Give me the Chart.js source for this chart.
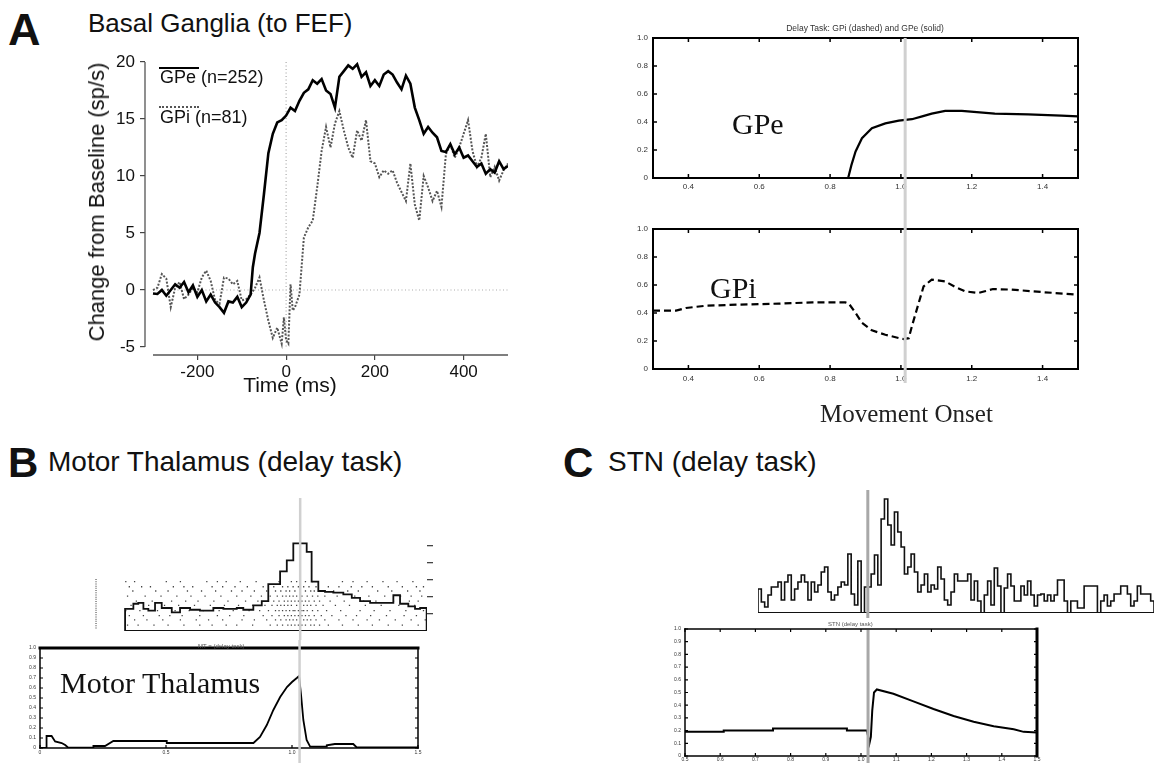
<!DOCTYPE html>
<html><head><meta charset="utf-8">
<script src="https://cdn.jsdelivr.net/npm/chart.js@4.4.1/dist/chart.umd.min.js"></script>
<style>
body{margin:0;background:#fff;}
#wrap{position:relative;width:1154px;height:763px;overflow:hidden;background:#fff;font-family:"Liberation Sans",Arial,sans-serif;color:#111;}
canvas{position:absolute;}
.t{position:absolute;white-space:nowrap;line-height:1;}
.serif{font-family:"Liberation Serif","Times New Roman",serif;}
</style></head><body><div id="wrap">
<div class="t" style="left:8px;top:7px;font-size:45px;font-weight:bold;">A</div>
<div class="t" style="left:88px;top:10px;font-size:26px;">Basal Ganglia (to FEF)</div>
<div class="t" style="left:8px;top:442px;font-size:42px;font-weight:bold;">B</div>
<div class="t" style="left:48px;top:448px;font-size:28px;">Motor Thalamus (delay task)</div>
<div class="t" style="left:563px;top:442px;font-size:42px;font-weight:bold;">C</div>
<div class="t" style="left:608px;top:448px;font-size:28px;">STN (delay task)</div>

<canvas id="cA" width="520" height="400" style="left:0;top:0;"></canvas>
<canvas id="cGPe" width="554" height="185" style="left:600px;top:15px;"></canvas>
<canvas id="cGPi" width="554" height="230" style="left:600px;top:200px;"></canvas>
<canvas id="cRaster" width="370" height="150" style="left:80px;top:490px;"></canvas>
<canvas id="cMT" width="440" height="123" style="left:0;top:640px;"></canvas>
<canvas id="cSTNh" width="414" height="132" style="left:740px;top:488px;"></canvas>
<canvas id="cSTN" width="420" height="143" style="left:640px;top:620px;"></canvas>

<div class="t" style="left:159px;top:67px;width:40px;border-top:2px solid #000;"></div>
<div class="t" style="left:160px;top:68px;font-size:18px;">GPe (n=252)</div>
<div class="t" style="left:159px;top:106px;width:40px;border-top:2px dotted #555;"></div>
<div class="t" style="left:160px;top:108px;font-size:18px;">GPi (n=81)</div>
<div class="t" style="left:190px;top:374px;width:200px;text-align:center;font-size:21px;">Time (ms)</div>
<div class="t" style="left:97px;top:202px;font-size:22px;transform:translate(-50%,-50%) rotate(-90deg);">Change from Baseline (sp/s)</div>

<div class="t" style="left:765px;top:24px;width:200px;text-align:center;font-size:8.5px;color:#333;">Delay Task: GPi (dashed) and GPe (solid)</div>
<div class="t serif" style="left:732px;top:109px;font-size:30px;">GPe</div>
<div class="t serif" style="left:710px;top:273px;font-size:30px;">GPi</div>
<div class="t serif" style="left:820px;top:401px;font-size:25px;color:#222;">Movement Onset</div>
<div class="t serif" style="left:60px;top:668px;font-size:30px;">Motor Thalamus</div>
<div class="t" style="left:198px;top:643px;font-size:6px;color:#555;">MT = (delay task)</div>
<div class="t" style="left:828px;top:621px;font-size:6px;color:#555;">STN (delay task)</div>
</div>
<script>
// ---------- Panel A (recorded data) ----------
const gpeRecT = [-300,-290,-280,-270,-260,-250,-240,-230,-220,-210,-200,-190,-180,-170,-160,-150,-140,-130,-120,-110,-100,-90,-80,-75,-70,-60,-50,-40,-30,-20,-10,0,10,20,30,40,50,60,70,80,90,100,110,120,130,140,150,160,170,180,190,200,210,220,230,240,250,260,270,280,290,300,310,320,330,340,350,360,370,380,390,400,410,420,430,440,450,460,470,480,490,500];
const gpeRecV = [-0.3,-0.35,0,-0.5,0,0.5,0.2,0.7,-0.2,0.4,-0.6,0,-1,-0.4,-1.1,-1.5,-2,-1,-1.1,-0.6,-1.5,-1.1,-0.4,2,3.2,5,8.4,12,13.7,14.7,14.9,15.3,16,15.7,16.6,17.3,17.6,18.4,18.1,18.5,17.5,17.2,16,18.7,19.2,19.7,19.4,19.8,18.7,19.1,17.9,18.4,17.9,18.9,19.2,18.9,18.2,17.6,18.8,18.1,16,14.9,13.7,14.3,13.8,13.4,12.2,12.1,12.8,11.9,12.5,11.6,11.8,11.3,10.8,11.1,10.2,10.6,10.3,11.3,10.6,10.9];
const gpiRecT = [-300,-290,-280,-270,-260,-250,-240,-230,-220,-210,-200,-190,-180,-170,-160,-150,-140,-130,-120,-110,-100,-90,-80,-70,-60,-50,-40,-30,-20,-10,-5,0,5,10,15,20,30,40,50,60,70,80,90,100,110,120,130,140,150,160,170,180,190,200,210,220,230,240,250,260,270,280,290,300,310,320,330,340,350,360,370,380,390,400,410,420,430,440,450,460,470,480,490,500];
const gpiRecV = [0,0.2,1.4,1,-1.5,0.2,0.7,-0.8,-0.4,0.2,-0.2,1.1,1.7,0.8,-0.9,-1.2,1.1,1,0.5,0.8,-0.9,-0.8,-0.4,0.2,1.1,-0.9,-2.7,-4.2,-3.3,-4.7,-2.4,-4.4,-4.7,0.5,-1.8,-1.5,-0.4,4.6,5.5,6.1,9,12.2,14.3,12.5,14.6,15.7,14,12.5,11.6,14,13.1,14.9,11.3,11.1,9.9,10.5,10.2,10.5,9.4,8.6,7.8,11.1,7.5,6.1,10,9,7.8,8.7,7.3,11.9,12.8,11.6,12.5,13.7,14.9,12.2,10.8,11.6,13.7,9.9,10.8,9.6,10.5,11.1];
const recXTicks = [-200,0,200,400];
const recYTicks = [-5,0,5,10,15,20];

// ---------- Panel A (model) ----------
const gpeModT = [0.851,0.86,0.872,0.89,0.918,0.956,0.994,1.031,1.06,1.087,1.125,1.172,1.265,1.359,1.453,1.5];
const gpeModV = [0,0.09,0.19,0.284,0.355,0.39,0.41,0.42,0.44,0.46,0.48,0.48,0.46,0.455,0.445,0.44];
const gpiModT = [0.3,0.365,0.393,0.45,0.543,0.656,0.75,0.843,0.853,0.872,0.89,0.918,0.956,0.994,1.008,1.022,1.031,1.05,1.064,1.087,1.125,1.153,1.181,1.219,1.237,1.26,1.312,1.406,1.5];
const gpiModV = [0.417,0.417,0.436,0.452,0.46,0.467,0.476,0.476,0.467,0.4,0.33,0.276,0.245,0.221,0.214,0.22,0.305,0.47,0.59,0.638,0.626,0.586,0.555,0.543,0.555,0.571,0.567,0.548,0.531];
const modXTicks = [0.4,0.6,0.8,1,1.2,1.4];
const modYTicks = [0,0.2,0.4,0.6,0.8,1];
const modOnset = 1.012;

// ---------- Panel B ----------
const mtHistEdges = [-0.994,-0.947,-0.919,-0.890,-0.862,-0.824,-0.786,-0.729,-0.682,-0.625,-0.569,-0.493,-0.436,-0.360,-0.323,-0.266,-0.218,-0.181,-0.114,-0.076,-0.039,0.037,0.065,0.103,0.141,0.188,0.245,0.293,0.340,0.397,0.463,0.529,0.567,0.614,0.652,0.681,0.718];
const mtHistVals = [26,32,33,26,24,33,27,22,27,25,24,27,26,27,25,30,35,55,70,83,103,93,58,47,46,45,43,39,35,33,33,42,32,29,26,27];
const mtHistAxisTicks = [20,40,60,80,100];
const rasterRowY = [58,52,47,41,35,30,24,18,13,7];
const rasterRows = [
 [-0.99,-0.94,-0.76,-0.68,-0.53,-0.47,-0.42,-0.34,-0.25,-0.12,-0.05,-0.02,0.03,0.07,0.24,0.30,0.38,0.47,0.55,0.64],
 [-0.97,-0.90,-0.85,-0.72,-0.66,-0.61,-0.50,-0.44,-0.37,-0.30,-0.21,-0.15,-0.10,-0.07,-0.04,-0.01,0.02,0.05,0.09,0.16,0.22,0.29,0.35,0.41,0.50,0.58,0.66,0.70],
 [-0.95,-0.82,-0.75,-0.64,-0.56,-0.48,-0.39,-0.33,-0.26,-0.19,-0.14,-0.11,-0.08,-0.06,-0.03,0.0,0.03,0.06,0.08,0.12,0.19,0.27,0.33,0.44,0.52,0.61,0.68],
 [-0.98,-0.88,-0.79,-0.70,-0.62,-0.54,-0.45,-0.36,-0.28,-0.22,-0.17,-0.13,-0.10,-0.08,-0.06,-0.04,-0.02,0.01,0.04,0.07,0.10,0.14,0.21,0.31,0.39,0.48,0.57,0.63,0.69],
 [-0.93,-0.84,-0.73,-0.65,-0.58,-0.49,-0.41,-0.31,-0.24,-0.18,-0.15,-0.12,-0.09,-0.07,-0.05,-0.03,-0.01,0.01,0.03,0.05,0.08,0.11,0.17,0.25,0.36,0.43,0.53,0.62,0.67],
 [-0.96,-0.86,-0.77,-0.69,-0.60,-0.51,-0.43,-0.35,-0.27,-0.20,-0.16,-0.13,-0.11,-0.09,-0.07,-0.05,-0.02,0.0,0.02,0.04,0.06,0.09,0.13,0.20,0.28,0.37,0.46,0.56,0.65],
 [-0.99,-0.91,-0.81,-0.71,-0.63,-0.55,-0.46,-0.38,-0.29,-0.23,-0.18,-0.14,-0.12,-0.10,-0.08,-0.06,-0.04,-0.03,-0.01,0.01,0.02,0.04,0.07,0.10,0.15,0.23,0.34,0.42,0.51,0.60,0.70],
 [-0.97,-0.89,-0.80,-0.74,-0.67,-0.57,-0.47,-0.40,-0.32,-0.21,-0.16,-0.12,-0.09,-0.07,-0.05,-0.03,-0.01,0.01,0.03,0.05,0.08,0.12,0.18,0.26,0.32,0.40,0.49,0.59,0.66],
 [-0.94,-0.87,-0.78,-0.68,-0.59,-0.52,-0.44,-0.33,-0.26,-0.19,-0.14,-0.11,-0.08,-0.06,-0.04,-0.02,0.0,0.02,0.04,0.06,0.09,0.14,0.22,0.30,0.38,0.45,0.54,0.63,0.71],
 [-0.98,-0.92,-0.83,-0.75,-0.66,-0.57,-0.50,-0.42,-0.36,-0.27,-0.17,-0.13,-0.10,-0.07,-0.05,-0.03,-0.01,0.01,0.03,0.06,0.08,0.11,0.16,0.24,0.33,0.41,0.50,0.58,0.67]
];
const trialMarkX = -1.159;
const mtModT = [0,0.026,0.026,0.046,0.06,0.086,0.1,0.112,0.212,0.212,0.258,0.291,0.503,0.503,0.847,0.873,0.9,0.926,0.953,0.98,1.0,1.019,1.028,1.036,1.045,1.058,1.072,1.138,1.138,1.17,1.243,1.257,1.5];
const mtModV = [0,0,0.12,0.12,0.065,0.05,0.03,0.003,0.007,0.02,0.02,0.07,0.07,0.05,0.05,0.11,0.23,0.38,0.51,0.61,0.66,0.70,0.72,0.53,0.28,0.08,0.013,0.013,0.027,0.04,0.04,0.005,0.005];
const mtXTicks = [0,0.5,1,1.5];
const mtYTicks = [0,0.1,0.2,0.3,0.4,0.5,0.6,0.7,0.8,0.9,1];
const mtOnset = 1.03;

// ---------- Panel C ----------
const stnBinStart = -330, stnBinWidth = 10;
const stnHist = [24,11,6,18,26,26,31,13,31,38,13,24,31,38,31,13,31,21,28,41,46,21,13,18,26,31,28,59,19,8,52,0,26,26,39,58,28,94,114,88,68,101,81,66,39,46,59,41,21,28,39,21,28,24,46,34,13,8,21,
 39,32,32,32,39,13,32,12,0,18,32,8,45,27,0,25,39,27,12,12,27,18,32,18,7,18,19,12,18,12,18,33,33,12,0,12,12,5,5,27,27,27,27,0,12,18,7,12,19,19,27,27,19,7,12,27,19,19,19,12];
const stnModT = [0.5,0.61,0.61,0.75,0.75,0.96,0.96,1.017,1.024,1.028,1.032,1.037,1.045,1.092,1.149,1.206,1.263,1.32,1.377,1.434,1.462,1.5];
const stnModV = [0.19,0.19,0.20,0.20,0.217,0.217,0.20,0.20,0.10,0.15,0.36,0.50,0.524,0.49,0.43,0.37,0.315,0.27,0.235,0.21,0.19,0.185];
const stnXTicks = [0.5,0.6,0.7,0.8,0.9,1,1.1,1.2,1.3,1.4,1.5];
const stnYTicks = [0,0.1,0.2,0.3,0.4,0.5,0.6,0.7,0.8,0.9,1];
const stnOnset = 1.02;

// ---------- helpers / plugins ----------
const SANS = "'Liberation Sans', Arial, sans-serif";
const pts = (xs, ys) => xs.map((x, i) => ({x, y: ys[i]}));
const fixedTicks = arr => s => { s.ticks = arr.map(v => ({value: v})); };
function histPoints(edges, vals, endX) {
  const p = [{x: edges[0], y: 0}];
  vals.forEach((v, i) => p.push({x: edges[i], y: v}));
  p.push({x: endX, y: vals[vals.length - 1]});
  p.push({x: endX, y: 0});
  return p;
}

const boxPlugin = {
  id: 'mbox',
  afterDraw(chart, args, o) {
    if (!o || !o.sides) return;
    const {ctx, chartArea: a} = chart;
    ctx.save();
    ctx.strokeStyle = o.color || '#000';
    ctx.lineCap = 'square';
    const seg = (x1, y1, x2, y2, w) => { ctx.lineWidth = w; ctx.beginPath(); ctx.moveTo(x1, y1); ctx.lineTo(x2, y2); ctx.stroke(); };
    const w = o.lw || 1.5, s = o.sides;
    if (s.includes('t')) seg(a.left, a.top, a.right, a.top, o.topLw || w);
    if (s.includes('b')) seg(a.left, a.bottom, a.right, a.bottom, w);
    if (s.includes('l')) seg(a.left, a.top, a.left, a.bottom, w);
    if (s.includes('r')) seg(a.right, a.top, a.right, a.bottom, o.rightLw || w);
    if (o.tick) {
      const L = o.tick, xs = chart.scales.x, ys = chart.scales.y;
      ctx.lineWidth = o.tickLw || 1.5;
      ctx.lineCap = 'butt';
      ctx.beginPath();
      xs.ticks.forEach(t => {
        const p = xs.getPixelForValue(t.value);
        if (o.xt.includes('b')) { ctx.moveTo(p, a.bottom); ctx.lineTo(p, a.bottom - L); }
        if (o.xt.includes('t')) { ctx.moveTo(p, a.top); ctx.lineTo(p, a.top + L); }
      });
      ys.ticks.forEach(t => {
        const p = ys.getPixelForValue(t.value);
        if (o.yt.includes('l')) { ctx.moveTo(a.left, p); ctx.lineTo(a.left + L, p); }
        if (o.yt.includes('r')) { ctx.moveTo(a.right, p); ctx.lineTo(a.right - L, p); }
      });
      ctx.stroke();
    }
    ctx.restore();
  }
};
const onsetPlugin = {
  id: 'onset',
  afterDraw(chart, args, o) {
    if (!o || o.value === undefined) return;
    const {ctx} = chart;
    const x = chart.scales.x.getPixelForValue(o.value);
    const top = o.top === 'area' ? chart.chartArea.top : (o.top || 0);
    const bottom = o.bottom === undefined ? chart.height : o.bottom;
    ctx.save();
    ctx.strokeStyle = o.color || '#ccc';
    ctx.lineWidth = o.width || 3;
    ctx.beginPath(); ctx.moveTo(x, top); ctx.lineTo(x, bottom); ctx.stroke();
    ctx.restore();
  }
};
const recAxesPlugin = {
  id: 'recAxes',
  beforeDatasetsDraw(chart, args, o) {
    if (!o || !o.on) return;
    const {ctx, chartArea: a} = chart, xs = chart.scales.x, ys = chart.scales.y;
    ctx.save();
    ctx.strokeStyle = '#aaa'; ctx.lineWidth = 1.2; ctx.setLineDash([1, 2.5]);
    ctx.beginPath();
    ctx.moveTo(xs.getPixelForValue(0), ys.getPixelForValue(20)); ctx.lineTo(xs.getPixelForValue(0), ys.getPixelForValue(-5));
    ctx.moveTo(xs.getPixelForValue(-300), ys.getPixelForValue(0)); ctx.lineTo(xs.getPixelForValue(500), ys.getPixelForValue(0));
    ctx.stroke();
    ctx.setLineDash([]);
    ctx.strokeStyle = '#555'; ctx.lineWidth = 1.3;
    ctx.beginPath();
    ctx.moveTo(a.left, ys.getPixelForValue(20)); ctx.lineTo(a.left, ys.getPixelForValue(-5));
    ctx.moveTo(xs.getPixelForValue(-300), a.bottom); ctx.lineTo(xs.getPixelForValue(500), a.bottom);
    ctx.stroke();
    ctx.restore();
  }
};
Chart.register(boxPlugin, onsetPlugin, recAxesPlugin);
Chart.defaults.font.family = SANS;
Chart.defaults.animation = false;
Chart.defaults.responsive = false;
Chart.defaults.plugins.legend.display = false;
Chart.defaults.plugins.tooltip.enabled = false;
Chart.defaults.elements.point.radius = 0;
Chart.defaults.elements.line.tension = 0;

function modelScales(o) {
  return {
    x: {type: 'linear', min: o.xmin, max: o.xmax, afterBuildTicks: fixedTicks(o.xt), afterFit: s => { s.height = o.xh; },
        grid: {display: false, drawTicks: false}, border: {display: false},
        ticks: {font: {size: o.fs}, color: '#333', padding: o.xpad, autoSkip: false, maxRotation: 0}},
    y: {type: 'linear', min: o.ymin, max: o.ymax, afterBuildTicks: fixedTicks(o.yt), afterFit: s => { s.width = o.yw; },
        grid: {display: false, drawTicks: false}, border: {display: false},
        ticks: {font: {size: o.fs}, color: '#333', padding: o.ypad, autoSkip: false}}
  };
}

// ---------- A: recorded ----------
new Chart(document.getElementById('cA'), {
  type: 'line',
  data: {datasets: [
    {data: pts(gpeRecT, gpeRecV), borderColor: '#000', borderWidth: 2.6, order: 0},
    {data: pts(gpiRecT, gpiRecV), borderColor: '#555', borderWidth: 2, borderDash: [2, 1.6], order: 1}
  ]},
  options: {
    layout: {padding: {top: 62, right: 12, left: 0, bottom: 0}},
    plugins: {recAxes: {on: true}},
    scales: {
      x: {type: 'linear', min: -318, max: 500, afterBuildTicks: fixedTicks(recXTicks), afterFit: s => { s.height = 45; },
          grid: {drawOnChartArea: false, drawTicks: true, tickLength: 5, color: '#444', lineWidth: 1.2}, border: {display: false},
          ticks: {font: {size: 17}, color: '#111', padding: 2, maxRotation: 0, autoSkip: false}},
      y: {type: 'linear', min: -5.7, max: 20, afterBuildTicks: fixedTicks(recYTicks), afterFit: s => { s.width = 145; },
          grid: {drawOnChartArea: false, drawTicks: true, tickLength: 5, color: '#444', lineWidth: 1.2}, border: {display: false},
          ticks: {font: {size: 17}, color: '#111', padding: 5, autoSkip: false}}
    }
  }
});

// ---------- A: GPe model ----------
new Chart(document.getElementById('cGPe'), {
  type: 'line',
  data: {datasets: [{data: pts(gpeModT, gpeModV), borderColor: '#000', borderWidth: 2.2}]},
  options: {
    layout: {padding: {top: 23, right: 76, left: 0, bottom: 0}},
    plugins: {mbox: {sides: 'tblr', lw: 2, tick: 4, xt: 'tb', yt: 'lr'}, onset: {value: modOnset, top: 'area', color: '#d0d0d0', width: 3}},
    scales: modelScales({xmin: 0.3, xmax: 1.5, ymin: 0, ymax: 1, xt: modXTicks, yt: modYTicks, xh: 22, yw: 53, fs: 8, xpad: 4, ypad: 5})
  }
});

// ---------- A: GPi model ----------
new Chart(document.getElementById('cGPi'), {
  type: 'line',
  data: {datasets: [{data: pts(gpiModT, gpiModV), borderColor: '#000', borderWidth: 2.2, borderDash: [7, 4]}]},
  options: {
    layout: {padding: {top: 29, right: 76, left: 0, bottom: 0}},
    plugins: {mbox: {sides: 'tblr', lw: 2, tick: 4, xt: 'tb', yt: 'lr'}, onset: {value: modOnset, top: 0, bottom: 183, color: '#d0d0d0', width: 3}},
    scales: modelScales({xmin: 0.3, xmax: 1.5, ymin: 0, ymax: 1, xt: modXTicks, yt: modYTicks, xh: 61, yw: 53, fs: 8, xpad: 5, ypad: 5})
  }
});

// ---------- B: raster + histogram ----------
const rasterPts = [];
rasterRows.forEach((row, r) => row.forEach(t => rasterPts.push({x: t, y: rasterRowY[r]})));
new Chart(document.getElementById('cRaster'), {
  type: 'line',
  data: {datasets: [
    {data: histPoints(mtHistEdges, mtHistVals, mtHistEdges[mtHistEdges.length - 1]), borderColor: '#111', borderWidth: 1.8, stepped: true, order: 0},
    {type: 'scatter', data: rasterPts, pointStyle: 'rect', pointRadius: 0.9, backgroundColor: '#444', borderWidth: 0, order: 1},
    {data: [{x: mtHistEdges[0], y: 0}, {x: mtHistEdges[mtHistEdges.length - 1], y: 0}], borderColor: '#111', borderWidth: 2, order: 2},
    {data: [{x: trialMarkX, y: 3}, {x: trialMarkX, y: 61}], borderColor: '#777', borderWidth: 1.5, borderDash: [1, 1.2], order: 3}
  ]},
  options: {
    layout: {padding: {top: 0, right: 0, left: 8.8, bottom: 9}},
    plugins: {onset: {value: 0, top: 8, color: '#d0d0d0', width: 2.5}},
    scales: {
      x: {type: 'linear', min: -1.2, max: 0.72, display: false},
      y: {type: 'linear', position: 'right', min: 0, max: 161, afterBuildTicks: fixedTicks(mtHistAxisTicks), afterFit: s => { s.width = 23; },
          grid: {display: true, drawOnChartArea: false, drawTicks: true, tickLength: 6, color: '#444', lineWidth: 1.3},
          border: {display: false}, ticks: {display: false}}
    }
  }
});

// ---------- B: motor thalamus model ----------
new Chart(document.getElementById('cMT'), {
  type: 'line',
  data: {datasets: [{data: pts(mtModT, mtModV), borderColor: '#000', borderWidth: 1.8}]},
  options: {
    layout: {padding: {top: 8, right: 22, left: 0, bottom: 0}},
    plugins: {mbox: {sides: 'tblr', lw: 1.5, topLw: 3, tick: 3, tickLw: 1.2, xt: 'b', yt: 'lr'}, onset: {value: mtOnset, top: 0, color: '#d0d0d0', width: 2.5}},
    scales: modelScales({xmin: 0, xmax: 1.5, ymin: 0, ymax: 1, xt: mtXTicks, yt: mtYTicks, xh: 15, yw: 40, fs: 5, xpad: 2, ypad: 4})
  }
});

// ---------- C: STN histogram ----------
const stnEdges = stnHist.map((v, i) => stnBinStart + i * stnBinWidth);
const stnEnd = stnBinStart + stnHist.length * stnBinWidth;
new Chart(document.getElementById('cSTNh'), {
  type: 'line',
  data: {datasets: [
    {data: histPoints(stnEdges, stnHist, stnEnd), borderColor: '#111', borderWidth: 1.6, stepped: true, order: 0},
    {data: [{x: stnBinStart, y: 0}, {x: stnEnd, y: 0}], borderColor: '#111', borderWidth: 2, order: 1}
  ]},
  options: {
    layout: {padding: {top: 2, right: 0, left: 18, bottom: 7}},
    plugins: {onset: {value: 0, top: 2, bottom: 130, color: '#a8a8a8', width: 3}},
    scales: {
      x: {type: 'linear', min: stnBinStart, max: stnEnd, display: false},
      y: {type: 'linear', min: 0, max: 123, display: false}
    }
  }
});

// ---------- C: STN model ----------
new Chart(document.getElementById('cSTN'), {
  type: 'line',
  data: {datasets: [{data: pts(stnModT, stnModV), borderColor: '#000', borderWidth: 2}]},
  options: {
    layout: {padding: {top: 9, right: 23, left: 0, bottom: 0}},
    plugins: {mbox: {sides: 'tblr', lw: 1.5, rightLw: 3, tick: 3, tickLw: 1.2, xt: 'tb', yt: 'lr'}, onset: {value: stnOnset, top: 10, color: '#a8a8a8', width: 3}},
    scales: modelScales({xmin: 0.5, xmax: 1.5, ymin: 0, ymax: 1, xt: stnXTicks, yt: stnYTicks, xh: 6, yw: 45, fs: 5, xpad: 1, ypad: 4})
  }
});
</script>
</body></html>
